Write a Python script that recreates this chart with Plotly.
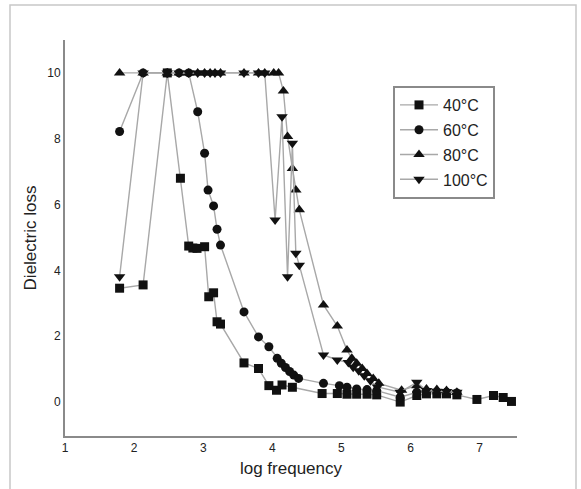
import plotly.graph_objects as go

# ---- data ----
series_names = ["40°C", "60°C", "80°C", "100°C"]

x_40 = [1.79, 2.13, 2.48, 2.67, 2.79, 2.85, 2.91, 3.02, 3.08, 3.15, 3.20, 3.25, 3.59, 3.80, 3.95, 4.06, 4.14, 4.29,
        4.72, 4.94, 5.08, 5.22, 5.37, 5.51, 5.85, 6.09, 6.23, 6.38, 6.52, 6.67, 6.96, 7.20, 7.34, 7.46]
y_40 = [3.46, 3.56, 10.0, 6.80, 4.74, 4.68, 4.67, 4.72, 3.20, 3.32, 2.44, 2.37, 1.19, 1.02, 0.50, 0.36, 0.52, 0.45,
        0.26, 0.26, 0.24, 0.24, 0.24, 0.22, 0.00, 0.20, 0.25, 0.25, 0.25, 0.22, 0.08, 0.20, 0.14, 0.02]

x_60 = [1.79, 2.13, 2.48, 2.65, 2.79, 2.92, 3.02, 3.07, 3.15, 3.20, 3.25, 3.59, 3.80, 3.95, 4.07, 4.13, 4.19, 4.25,
        4.31, 4.38, 4.74, 4.97, 5.08, 5.22, 5.37, 5.51, 5.85, 6.09, 6.23, 6.38, 6.52, 6.67]
y_60 = [8.22, 10.0, 10.0, 10.0, 10.0, 8.82, 7.56, 6.44, 5.96, 5.25, 4.77, 2.74, 1.98, 1.68, 1.33, 1.18, 1.05, 0.93,
        0.82, 0.72, 0.57, 0.50, 0.45, 0.40, 0.38, 0.35, 0.15, 0.30, 0.30, 0.30, 0.30, 0.28]

x_80 = [1.79, 2.13, 2.48, 2.65, 2.79, 2.92, 3.02, 3.10, 3.17, 3.25, 3.59, 3.80, 3.89, 4.02, 4.09, 4.16, 4.22, 4.29,
        4.34, 4.39, 4.74, 4.94, 5.08, 5.15, 5.22, 5.30, 5.37, 5.46, 5.54, 5.87, 6.09, 6.23, 6.38, 6.52, 6.67]
y_80 = [10.0, 10.0, 10.0, 10.0, 10.0, 10.0, 10.0, 10.0, 10.0, 10.0, 10.0, 10.0, 10.0, 10.0, 10.0, 9.45, 8.07, 7.10,
        6.44, 5.84, 2.95, 2.31, 1.58, 1.33, 1.18, 1.02, 0.87, 0.72, 0.57, 0.36, 0.50, 0.40, 0.38, 0.35, 0.30]

x_100 = [1.79, 2.13, 2.48, 2.65, 2.79, 2.92, 3.02, 3.10, 3.17, 3.25, 3.59, 3.80, 3.89, 4.04, 4.14, 4.22, 4.29, 4.34,
         4.39, 4.74, 4.94, 5.10, 5.17, 5.25, 5.33, 5.42, 5.52, 5.85, 6.09, 6.23, 6.38, 6.52, 6.67]
y_100 = [3.81, 10.0, 10.0, 10.0, 10.0, 10.0, 10.0, 10.0, 10.0, 10.0, 10.0, 10.0, 10.0, 5.53, 8.67, 3.81, 7.86, 4.52,
         4.16, 1.43, 1.28, 1.20, 1.06, 0.95, 0.80, 0.65, 0.46, 0.30, 0.60, 0.35, 0.33, 0.32, 0.30]

x_ticks = [1, 2, 3, 4, 5, 6, 7]
y_ticks = [0, 2, 4, 6, 8, 10]

# ---- figure ----
symbols = ["square", "circle", "triangle-up", "triangle-down"]
sizes = [9, 9, 10, 10]
xs = [x_40, x_60, x_80, x_100]
ys = [y_40, y_60, y_80, y_100]

fig = go.Figure()
for i, name in enumerate(series_names):
    fig.add_trace(go.Scatter(
        x=xs[i], y=ys[i], name=name, mode="lines+markers",
        legendgroup=name,
        line=dict(color="#a8a8a8", width=1.4),
        marker=dict(symbol=symbols[i], color="#111111", size=sizes[i],
                    line=dict(width=0)),
    ))

FONT = "Liberation Sans, Arial, sans-serif"
fig.update_layout(
    width=581, height=489,
    margin=dict(l=65, r=64, t=40, b=53),
    paper_bgcolor="white", plot_bgcolor="white",
    font=dict(family=FONT, color="#222222"),
    showlegend=True,
    legend=dict(
        x=(393 - 65) / 452, y=(436 - 86) / 396, xanchor="left", yanchor="top",
        bordercolor="#8a8a8a", borderwidth=2, bgcolor="white",
        font=dict(size=16, family=FONT, color="#222222"),
        tracegroupgap=1, itemwidth=38,
    ),
    xaxis=dict(
        range=[1, 7.54], tickmode="array", tickvals=x_ticks,
        showgrid=False, zeroline=False, showline=True, linecolor="#8a8a8a", linewidth=2,
        ticks="", tickfont=dict(size=12, color="#222222"),
        title=dict(text="log frequency", font=dict(size=17, color="#222222"), standoff=8),
    ),
    yaxis=dict(
        range=[-1.03, 11.0], tickmode="array", tickvals=y_ticks,
        showgrid=False, zeroline=False, showline=True, linecolor="#8a8a8a", linewidth=2,
        ticks="", tickfont=dict(size=12, color="#222222"),
        title=dict(text="Dielectric loss", font=dict(size=17, color="#222222"), standoff=6),
    ),
    shapes=[dict(type="rect", xref="paper", yref="paper",
                 x0=-55 / 452, x1=511 / 452, y0=-60 / 396, y1=431 / 396,
                 line=dict(color="#c8c8c8", width=1.5), fillcolor="rgba(0,0,0,0)", layer="below")],
)

fig.write_html("out.html", config={"displayModeBar": False},
               post_script="document.body.style.margin='0px';")
